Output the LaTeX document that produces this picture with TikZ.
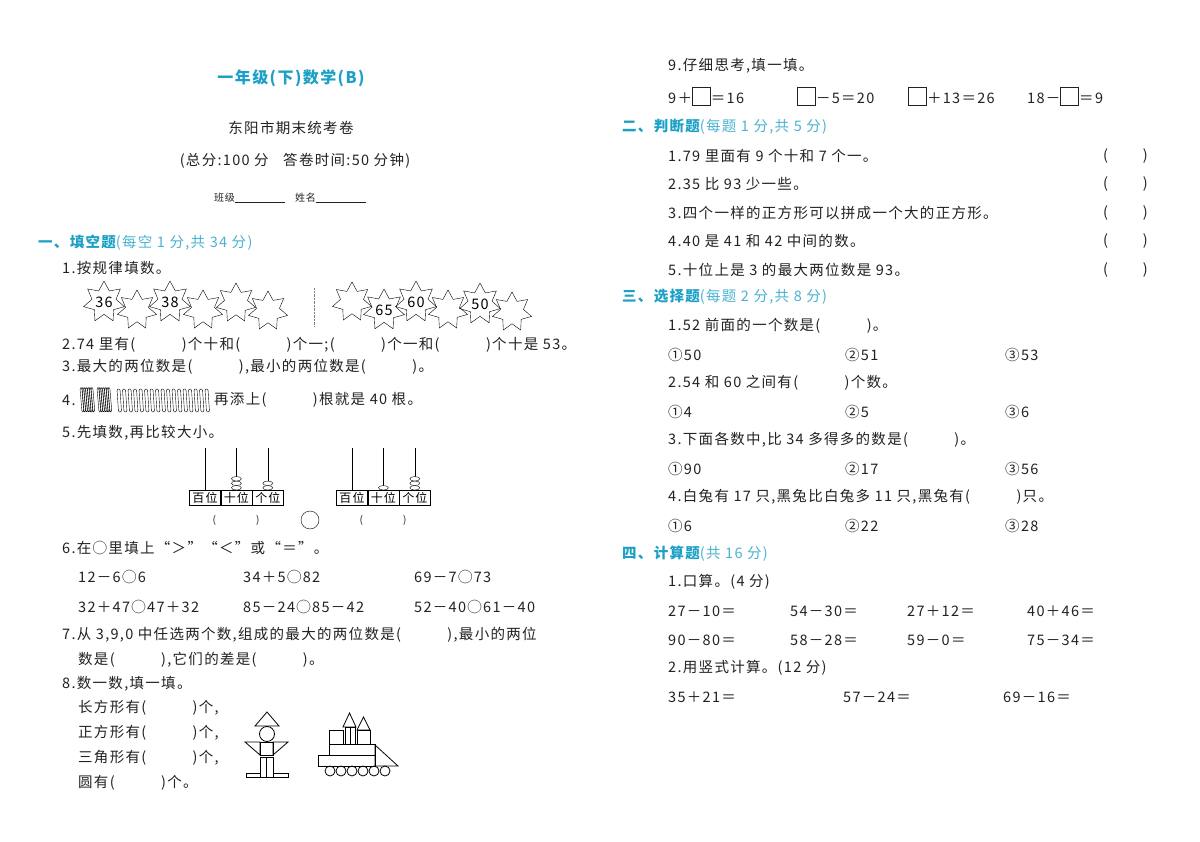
\documentclass[tikz,border=0pt]{standalone}
\usepackage{fontspec}
\setmainfont[LetterSpace=9]{Noto Sans CJK SC}
\usetikzlibrary{positioning, shapes.geometric, calc}
\definecolor{headteal}{HTML}{1DA0C6}
\definecolor{inkgray}{HTML}{222222}
\newcommand{\bodyfont}{\fontsize{14.5}{16}\selectfont}
\newcommand{\bl}{(\hspace{3.2em})}

\begin{document}
\begin{tikzpicture}[
  x=1pt, y=-1pt,
  txt/.style={anchor=west, inner sep=0pt, font=\bodyfont, text=inkgray},
  sect/.style={anchor=west, inner sep=0pt, font=\bodyfont\bfseries, text=headteal},
  mid/.style={inner sep=0pt, font=\bodyfont, text=inkgray},
  starbox/.style={draw, star, star points=7, star point ratio=1.7,
                  minimum size=40pt, inner sep=0pt, font=\bodyfont},
  cell/.style={draw, minimum width=31pt, minimum height=15pt, inner sep=0pt,
               font=\fontsize{12}{13}\selectfont},
  bead/.style={draw, fill=white, ellipse, minimum width=10pt, minimum height=4.5pt, inner sep=0pt},
  stick/.style={draw, rounded corners=1.2pt, thin},
  figline/.style={draw, thick},
]
  \useasboundingbox (0,0) rectangle (1200,842);
  \fill[white] (0,0) rectangle (1200,842);

  % Header
  \node[mid, font=\fontsize{16}{18}\selectfont\bfseries, text=headteal] (title) at (291,78) {一年级(下)数学(B)};
  \node[mid] (sub) at (291,128) {东阳市期末统考卷};
  \node[mid] (info) at (295,161) {(总分:100 分\quad 答卷时间:50 分钟)};
  \node[mid, font=\fontsize{10}{12}\selectfont] (name) at (290,198) {班级\underline{\hspace{5em}}\quad 姓名\underline{\hspace{5em}}};

  % Part one
  \node[sect] (s1) at (38,243) {一、填空题\textcolor{headteal!80}{\mdseries(每空 1 分,共 34 分)}};
  \node[txt] (q1) at (62,268) {1.按规律填数。};
  \foreach \x/\y/\v [count=\i] in {104/302/36,137/310/,170/302/38,203/310/,236/303/,268/311/}
    \node[starbox] (ls\i) at (\x,\y) {\v};
  \draw[gray, densely dotted] (314,288) -- (314,326);
  \foreach \x/\y/\v [count=\i] in {352/302/,384/310/65,416/302/60,448/310/,480/304/50,512/312/}
    \node[starbox] (rs\i) at (\x,\y) {\v};

  \node[txt] (q2) at (62,345) {2.74 里有\bl 个十和\bl 个一;\bl 个一和\bl 个十是 53。};
  \node[txt] (q3) at (62,367) {3.最大的两位数是\bl ,最小的两位数是\bl 。};
  \node[txt] (q4a) at (62,400) {4.};
  \foreach \b in {0,1}
    \foreach \k in {0,...,6}
      \draw[stick] ({80+\b*17+\k*1.8},388) -- ++(2,-0.5) -- ++(2,24) -- ++(-2,0.5) -- cycle;
  \foreach \k in {0,...,16}
    \draw[stick] ({117+\k*5.5},389) -- ++(3,0) -- ++(1.5,23) -- ++(-3,0) -- cycle;
  \node[txt] (q4) at (214,400) {再添上\bl 根就是 40 根。};
  \node[txt] (q5) at (62,433) {5.先填数,再比较大小。};

  % abacus left
  \node[cell] (la1) at (205,498) {百位};
  \node[cell, right=0pt of la1] (la2) {十位};
  \node[cell, right=0pt of la2] (la3) {个位};
  \draw (la1.north) -- ++(0,-42);
  \draw (la2.north) -- ++(0,-42);
  \draw (la3.north) -- ++(0,-42);
  \foreach \k in {1,2,3} \node[bead] at ($(la2.north)+(0,-2.5-4.5*\k+4.5)$) {};
  \foreach \k in {1,2} \node[bead] at ($(la3.north)+(0,-2.5-4.5*\k+4.5)$) {};
  % abacus right
  \node[cell] (ra1) at (352,498) {百位};
  \node[cell, right=0pt of ra1] (ra2) {十位};
  \node[cell, right=0pt of ra2] (ra3) {个位};
  \draw (ra1.north) -- ++(0,-42);
  \draw (ra2.north) -- ++(0,-42);
  \draw (ra3.north) -- ++(0,-42);
  \node[bead] at ($(ra2.north)+(0,-2.5)$) {};
  \foreach \k in {1,2,3} \node[bead] at ($(ra3.north)+(0,-2.5-4.5*\k+4.5)$) {};
  \node[mid, font=\fontsize{10}{12}\selectfont] (lp) at (236,520) {(\hspace{4em})};
  \draw (310,520) circle (9);
  \node[mid, font=\fontsize{10}{12}\selectfont] (rp) at (383,520) {(\hspace{4em})};

  \node[txt] (q6) at (62,548) {6.在◯里填上“＞”“＜”或“＝”。};
  \node[txt] (c11) at (78,577) {12－6◯6};
  \node[txt] (c12) at (243,577) {34＋5◯82};
  \node[txt] (c13) at (414,577) {69－7◯73};
  \node[txt] (c21) at (78,607) {32＋47◯47＋32};
  \node[txt] (c22) at (243,607) {85－24◯85－42};
  \node[txt] (c23) at (414,607) {52－40◯61－40};
  \node[txt] (q7) at (62,635) {7.从 3,9,0 中任选两个数,组成的最大的两位数是\bl ,最小的两位};
  \node[txt] (q7b) at (78,660) {数是\bl ,它们的差是\bl 。};
  \node[txt] (q8) at (62,684) {8.数一数,填一填。};
  \node[txt] (q8a) at (78,708) {长方形有\bl 个,};
  \node[txt] (q8b) at (78,733) {正方形有\bl 个,};
  \node[txt] (q8c) at (78,758) {三角形有\bl 个,};
  \node[txt] (q8d) at (78,783) {圆有\bl 个。};

  % robot
  \draw[figline] (255,726) -- (267,712) -- (279,726) -- cycle;
  \draw[figline] (267,734) circle (7.5);
  \draw[figline] (260,742) rectangle (273,755);
  \draw[figline] (245,742) -- (260,742) -- (260,755) -- cycle;
  \draw[figline] (273,742) -- (288,742) -- (273,755) -- cycle;
  \draw[figline] (260,757) rectangle (266.5,777);
  \draw[figline] (266.5,757) rectangle (273,777);
  \draw[figline] (246,773) rectangle (260,777);
  \draw[figline] (273,773) rectangle (288,777);
  % train
  \draw[figline] (318,755) rectangle (375,766);
  \draw[figline] (375,745) -- (398,766) -- (375,766) -- cycle;
  \draw[figline] (329,744) rectangle (375,755);
  \draw[figline] (329,730) rectangle (343,744);
  \draw[figline] (345,727) rectangle (350,744);
  \draw[figline] (350,727) rectangle (355,744);
  \draw[figline] (343,727) -- (349.5,713) -- (356,727) -- cycle;
  \draw[figline] (357,730) rectangle (370,744);
  \draw[figline] (357,730) -- (363.5,717) -- (370,730) -- cycle;
  \foreach \k in {0,...,5} \draw[figline] ({330+\k*11},771) circle (5);

  % Right column
  \node[txt] (q9) at (668,66) {9.仔细思考,填一填。};
  \node[txt] (f1) at (668,96) {9＋\tikz[baseline=1pt]\draw[thick] (0,0) rectangle (18pt,18pt);＝16};
  \node[txt] (f2) at (797,96) {\tikz[baseline=1pt]\draw[thick] (0,0) rectangle (18pt,18pt);－5＝20};
  \node[txt] (f3) at (908,96) {\tikz[baseline=1pt]\draw[thick] (0,0) rectangle (18pt,18pt);＋13＝26};
  \node[txt] (f4) at (1027,96) {18－\tikz[baseline=1pt]\draw[thick] (0,0) rectangle (18pt,18pt);＝9};

  \node[sect] (s2) at (622,127) {二、判断题\textcolor{headteal!80}{\mdseries(每题 1 分,共 5 分)}};
  \foreach \y/\t [count=\i] in {156/1.79 里面有 9 个十和 7 个一。,
                               184/2.35 比 93 少一些。,
                               213/3.四个一样的正方形可以拼成一个大的正方形。,
                               241/4.40 是 41 和 42 中间的数。,
                               270/5.十位上是 3 的最大两位数是 93。} {
    \node[txt] (j\i) at (668,\y) {\t};
    \node[txt] (jb\i) at (1103,\y) {(\hspace{2.4em})};
  }

  \node[sect] (s3) at (622,297) {三、选择题\textcolor{headteal!80}{\mdseries(每题 2 分,共 8 分)}};
  \node[txt] (x1) at (668,326) {1.52 前面的一个数是\bl 。};
  \node[txt] (x1a) at (668,355) {①50}; \node[txt] (x1b) at (845,355) {②51}; \node[txt] (x1c) at (1005,355) {③53};
  \node[txt] (x2) at (668,383) {2.54 和 60 之间有\bl 个数。};
  \node[txt] (x2a) at (668,412) {①4}; \node[txt] (x2b) at (845,412) {②5}; \node[txt] (x2c) at (1005,412) {③6};
  \node[txt] (x3) at (668,440) {3.下面各数中,比 34 多得多的数是\bl 。};
  \node[txt] (x3a) at (668,469) {①90}; \node[txt] (x3b) at (845,469) {②17}; \node[txt] (x3c) at (1005,469) {③56};
  \node[txt] (x4) at (668,497) {4.白兔有 17 只,黑兔比白兔多 11 只,黑兔有\bl 只。};
  \node[txt] (x4a) at (668,526) {①6}; \node[txt] (x4b) at (845,526) {②22}; \node[txt] (x4c) at (1005,526) {③28};

  \node[sect] (s4) at (622,554) {四、计算题\textcolor{headteal!80}{\mdseries(共 16 分)}};
  \node[txt] (k1) at (668,582) {1.口算。(4 分)};
  \node[txt] (k11) at (668,611) {27－10＝}; \node[txt] (k12) at (790,611) {54－30＝};
  \node[txt] (k13) at (907,611) {27＋12＝}; \node[txt] (k14) at (1027,611) {40＋46＝};
  \node[txt] (k21) at (668,640) {90－80＝}; \node[txt] (k22) at (790,640) {58－28＝};
  \node[txt] (k23) at (907,640) {59－0＝}; \node[txt] (k24) at (1027,640) {75－34＝};
  \node[txt] (k2) at (668,668) {2.用竖式计算。(12 分)};
  \node[txt] (v1) at (668,697) {35＋21＝}; \node[txt] (v2) at (843,697) {57－24＝};
  \node[txt] (v3) at (1003,697) {69－16＝};
\end{tikzpicture}
\end{document}
